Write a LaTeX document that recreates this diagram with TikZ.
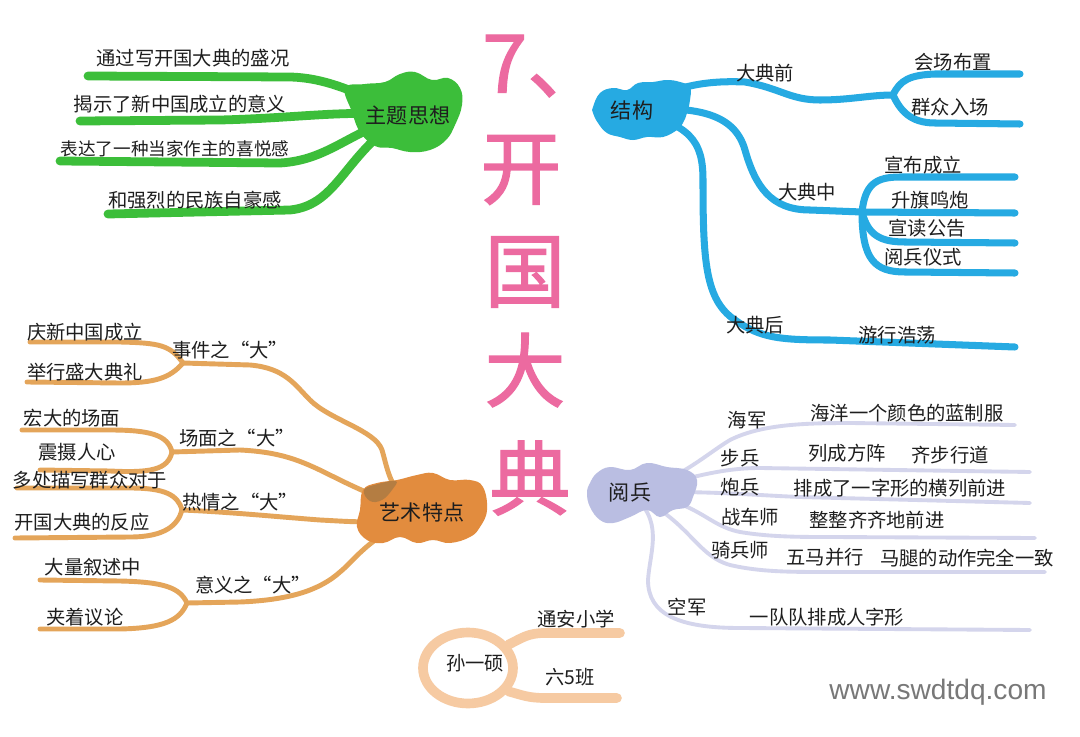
\documentclass[tikz,border=0pt]{standalone}
\usepackage{fontspec}
\newfontfamily\cjk{Noto Sans CJK SC}
\newfontfamily\titlefont[FakeBold=1.6]{Noto Sans CJK SC}
\newfontfamily\wmfont{Liberation Sans}
\usetikzlibrary{shapes.geometric}

\definecolor{themegreen}{RGB}{60,190,58}
\definecolor{structblue}{RGB}{38,170,226}
\definecolor{artorange}{RGB}{226,140,62}
\definecolor{artshade}{RGB}{150,115,70}
\definecolor{artline}{RGB}{228,165,90}
\definecolor{reviewlilac}{RGB}{186,190,226}
\definecolor{reviewline}{RGB}{212,213,236}
\definecolor{authorpeach}{RGB}{246,202,162}
\definecolor{titlepink}{RGB}{236,106,160}
\definecolor{inkgray}{RGB}{30,30,30}
\definecolor{markgray}{RGB}{120,120,120}

\begin{document}
\begin{tikzpicture}[
    x=0.02cm, y=-0.02cm,
    every node/.style={font=\cjk\fontsize{11}{13}\selectfont, text=inkgray, inner sep=0pt},
    hubtext/.style={font=\cjk\fontsize{12}{14}\selectfont},
    smalltext/.style={font=\cjk\fontsize{10}{12}\selectfont},
    titlechar/.style={font=\titlefont\fontsize{46}{50}\selectfont, text=titlepink},
    greenline/.style={draw=themegreen, line width=5pt, line cap=round, line join=round},
    blueline/.style={draw=structblue, line width=4pt, line cap=round, line join=round},
    orangeline/.style={draw=artline, line width=2.8pt, line cap=round, line join=round},
    lilacline/.style={draw=reviewline, line width=2.2pt, line cap=round, line join=round},
    peachline/.style={draw=authorpeach, line width=5.5pt, line cap=round},
    blob/.style={smooth cycle, tension=0.7}
  ]

  \fill[white] (0,0) rectangle (1080,737);
  \useasboundingbox (0,0) rectangle (1080,737);

  %--------------------------------------
  % 1) title, top to bottom
  %--------------------------------------
  \node[titlechar, anchor=west] (t0) at (482,66) {7、};
  \node[titlechar] (t1) at (521,170) {开};
  \node[titlechar] (t2) at (525,272) {国};
  \node[titlechar] (t3) at (525,370) {大};
  \node[titlechar] (t4) at (530,478) {典};

  %--------------------------------------
  % 2) green hub (top left)
  %--------------------------------------
  \coordinate (theme) at (408,115);
  \coordinate (g1) at (88,76);
  \coordinate (g2) at (80,121);
  \coordinate (g3) at (60,161);
  \coordinate (g4) at (108,214);

  \draw[greenline] (theme) .. controls (360,95) and (330,78) .. (290,77) -- (g1);
  \draw[greenline] (theme) .. controls (340,110) and (300,118) .. (220,120) -- (g2);
  \draw[greenline] (theme) .. controls (350,130) and (330,160) .. (280,163) -- (g3);
  \draw[greenline] (theme) .. controls (345,150) and (340,205) .. (290,210) -- (g4);

  \fill[themegreen] plot[blob] coordinates {(345,88) (365,84) (385,82) (400,74)
    (415,72) (432,80) (448,78) (460,88) (462,105) (455,125) (446,140) (430,150)
    (410,152) (392,148) (375,146) (360,132) (352,112)};
  \node[hubtext] (themet) at (theme) {主题思想};

  \node (g1t) at (193,58) {通过写开国大典的盛况};
  \node (g2t) at (180,104) {揭示了新中国成立的意义};
  \node[smalltext] (g3t) at (175,149) {表达了一种当家作主的喜悦感};
  \node (g4t) at (195,200) {和强烈的民族自豪感};

  %--------------------------------------
  % 3) blue hub (top right)
  %--------------------------------------
  \coordinate (struct) at (632,110);
  \coordinate (bf1) at (893,95);
  \coordinate (bf2) at (862,212);
  \coordinate (b1a) at (1020,74);
  \coordinate (b1b) at (1020,124);
  \coordinate (b2a) at (1015,177);
  \coordinate (b2b) at (1015,213);
  \coordinate (b2c) at (1015,243);
  \coordinate (b2d) at (1015,273);
  \coordinate (b3a) at (1015,347);

  % before
  \draw[blueline] (struct) .. controls (670,88) and (700,80) .. (745,82)
    .. controls (780,88) and (790,100) .. (820,100) .. controls (850,100) and (870,95) .. (bf1);
  \draw[blueline] (bf1) .. controls (900,80) and (910,75) .. (935,74) -- (b1a);
  \draw[blueline] (bf1) .. controls (900,110) and (910,123) .. (935,123) -- (b1b);
  % during
  \draw[blueline] (struct) .. controls (700,105) and (735,115) .. (745,150)
    .. controls (755,185) and (770,210) .. (810,210) -- (bf2);
  \draw[blueline] (bf2) .. controls (865,185) and (875,177) .. (900,177) -- (b2a);
  \draw[blueline] (bf2) -- (b2b);
  \draw[blueline] (bf2) .. controls (868,235) and (880,242) .. (905,242) -- (b2c);
  \draw[blueline] (bf2) .. controls (862,260) and (875,272) .. (905,272) -- (b2d);
  % after
  \draw[blueline] (struct) .. controls (690,125) and (703,140) .. (703,180)
    .. controls (703,260) and (705,300) .. (735,320)
    .. controls (760,338) and (780,340) .. (830,340) -- (b3a);

  \fill[structblue] plot[blob] coordinates {(593,107) (600,93) (613,88) (627,90)
    (638,83) (653,82) (667,80) (680,82) (690,87) (690,100) (687,113) (683,123)
    (677,130) (663,137) (647,137) (633,140) (620,137) (607,133) (598,123) (593,113)};
  \node[hubtext] (structt) at (struct) {结构};

  \node (b1t) at (765,73) {大典前};
  \node (b1at) at (953,62) {会场布置};
  \node (b1bt) at (950,107) {群众入场};
  \node (b2t) at (807,192) {大典中};
  \node (b2at) at (923,165) {宣布成立};
  \node (b2bt) at (930,200) {升旗鸣炮};
  \node (b2ct) at (927,228) {宣读公告};
  \node (b2dt) at (923,257) {阅兵仪式};
  \node (b3t) at (755,325) {大典后};
  \node (b3at) at (897,335) {游行浩荡};

  %--------------------------------------
  % 4) orange hub (bottom left)
  %--------------------------------------
  \coordinate (art) at (422,512);
  \coordinate (of1) at (183,363);
  \coordinate (of2) at (172,452);
  \coordinate (of3) at (182,510);
  \coordinate (of4) at (187,603);
  \coordinate (o1a) at (30,342);
  \coordinate (o1b) at (27,382);
  \coordinate (o2a) at (22,430);
  \coordinate (o2b) at (40,470);
  \coordinate (o3a) at (17,488);
  \coordinate (o3b) at (15,538);
  \coordinate (o4a) at (40,580);
  \coordinate (o4b) at (40,629);

  \draw[orangeline] (art) .. controls (390,495) and (388,470) .. (382,450)
    .. controls (375,430) and (330,420) .. (310,400)
    .. controls (295,385) and (285,368) .. (250,365) -- (of1);
  \draw[orangeline] (of1) .. controls (170,345) and (160,343) .. (120,342) -- (o1a);
  \draw[orangeline] (of1) .. controls (170,378) and (155,383) .. (120,383) -- (o1b);

  \draw[orangeline] (art) .. controls (380,500) and (350,485) .. (330,475)
    .. controls (300,460) and (280,452) .. (240,450) -- (of2);
  \draw[orangeline] (of2) .. controls (168,435) and (150,430) .. (110,430) -- (o2a);
  \draw[orangeline] (of2) .. controls (168,470) and (150,473) .. (110,471) -- (o2b);

  \draw[orangeline] (art) .. controls (380,525) and (360,522) .. (320,520)
    .. controls (280,517) and (230,512) .. (of3);
  \draw[orangeline] (of3) .. controls (178,495) and (165,488) .. (130,488) -- (o3a);
  \draw[orangeline] (of3) .. controls (178,525) and (165,537) .. (130,537) -- (o3b);

  \draw[orangeline] (art) .. controls (365,540) and (355,560) .. (340,572)
    .. controls (320,590) and (290,600) .. (240,602) -- (of4);
  \draw[orangeline] (of4) .. controls (180,588) and (165,582) .. (120,581) -- (o4a);
  \draw[orangeline] (of4) .. controls (180,620) and (165,628) .. (120,629) -- (o4b);

  \fill[artorange] plot[blob] coordinates {(363,490) (377,483) (397,480) (417,475)
    (433,473) (450,480) (470,480) (483,487) (487,510) (480,527) (470,537) (450,543)
    (433,540) (417,543) (400,537) (383,543) (367,540) (357,527) (360,510)};
  % darker patch at top left of the blob
  \fill[artshade, opacity=0.6] plot[blob] coordinates {(364,490) (378,484) (396,481)
    (392,490) (382,500) (370,501)};
  \node[hubtext] (artt) at (art) {艺术特点};

  \node (o1t) at (230,350) {事件之“大”};
  \node (o1at) at (85,332) {庆新中国成立};
  \node (o1bt) at (85,372) {举行盛大典礼};
  \node (o2t) at (237,438) {场面之“大”};
  \node (o2at) at (72,418) {宏大的场面};
  \node (o2bt) at (77,452) {震摄人心};
  \node (o3t) at (240,502) {热情之“大”};
  \node (o3at) at (90,480) {多处描写群众对于};
  \node (o3bt) at (82,522) {开国大典的反应};
  \node (o4t) at (253,585) {意义之“大”};
  \node (o4at) at (93,567) {大量叙述中};
  \node (o4bt) at (85,617) {夹着议论};

  %--------------------------------------
  % 5) lilac hub (bottom right)
  %--------------------------------------
  \coordinate (review) at (630,493);
  \coordinate (p1a) at (1015,425);
  \coordinate (p2a) at (1030,472);
  \coordinate (p3a) at (1030,503);
  \coordinate (p4a) at (1035,538);
  \coordinate (p5a) at (1045,572);
  \coordinate (p6a) at (1030,630);

  \draw[lilacline] (review) .. controls (680,480) and (705,455) .. (730,440)
    .. controls (760,425) and (800,423) .. (850,423) -- (p1a);
  \draw[lilacline] (review) .. controls (690,478) and (720,468) .. (760,468) -- (p2a);
  \draw[lilacline] (review) .. controls (700,490) and (750,495) .. (800,497) -- (p3a);
  \draw[lilacline] (review) .. controls (700,500) and (705,525) .. (740,532)
    .. controls (770,537) and (800,537) .. (830,537) -- (p4a);
  \draw[lilacline] (review) .. controls (690,520) and (695,555) .. (730,565)
    .. controls (760,572) and (790,572) .. (830,572) -- (p5a);
  \draw[lilacline] (review) .. controls (665,520) and (650,550) .. (648,580)
    .. controls (648,615) and (680,628) .. (740,628) -- (p6a);

  \fill[reviewlilac] plot[blob] coordinates {(590,483) (597,473) (610,467) (630,470)
    (647,463) (667,467) (687,470) (697,480) (693,497) (687,507) (673,510) (660,517)
    (647,510) (630,517) (613,523) (600,520) (590,507) (587,493)};
  \node[hubtext] (reviewt) at (review) {阅兵};

  \node (p1t) at (747,420) {海军};
  \node (p1at) at (907,413) {海洋一个颜色的蓝制服};
  \node (p2t) at (740,458) {步兵};
  \node (p2at) at (847,453) {列成方阵};
  \node (p2bt) at (950,455) {齐步行道};
  \node (p3t) at (740,487) {炮兵};
  \node (p3at) at (900,488) {排成了一字形的横列前进};
  \node (p4t) at (750,517) {战车师};
  \node (p4at) at (877,520) {整整齐齐地前进};
  \node (p5t) at (740,550) {骑兵师};
  \node (p5at) at (825,557) {五马并行};
  \node (p5bt) at (967,558) {马腿的动作完全一致};
  \node (p6t) at (687,607) {空军};
  \node (p6at) at (827,617) {一队队排成人字形};

  %--------------------------------------
  % 6) author (bottom middle)
  %--------------------------------------
  \node[ellipse, draw=authorpeach, line width=5.5pt, minimum width=1.8cm,
    minimum height=1.42cm] (author) at (468,668) {};
  \node (authort) at (475,663) {孙一硕};
  \coordinate (s1) at (620,633);
  \coordinate (s2) at (617,698);
  \draw[peachline] (author.30) .. controls (522,638) and (528,633) .. (545,633) -- (s1);
  \draw[peachline] (author.-30) .. controls (522,695) and (528,698) .. (545,698) -- (s2);
  \node (s1t) at (576,619) {通安小学};
  \node (s2t) at (570,677) {六5班};

  % watermark
  \node[font=\wmfont\fontsize{16}{18}\selectfont, text=markgray] (mark) at (938,692) {www.swdtdq.com};

\end{tikzpicture}
\end{document}
